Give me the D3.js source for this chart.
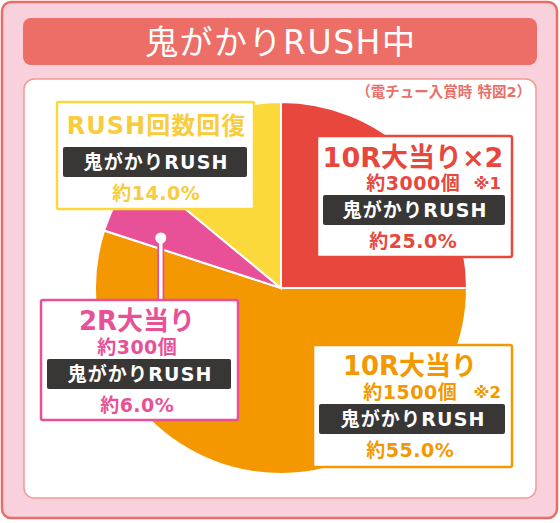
<!DOCTYPE html>
<html>
<head>
<meta charset="utf-8">
<script src="https://cdn.jsdelivr.net/npm/d3@7"></script>
<style>
  body { margin: 0; background: #fff; }
  svg { display: block; }
  text { font-family: "DejaVu Sans", "Noto Sans CJK JP", sans-serif; font-weight: bold; }
</style>
</head>
<body>
<div id="wrapper"></div>
<script>
// chart data
const title = "鬼がかりRUSH中";
const note = "（電チュー入賞時 特図2）";
const categories = ["10R大当り×2", "10R大当り", "2R大当り", "RUSH回数回復"];
const shares = [25.0, 55.0, 6.0, 14.0];
const payouts = ["約3000個", "約1500個", "約300個", null];
const marks = ["※1", "※2", null, null];
const modes = ["鬼がかりRUSH", "鬼がかりRUSH", "鬼がかりRUSH", "鬼がかりRUSH"];
const colors = ["#e8473e", "#f39800", "#e85197", "#fcd93a"];
const textColors = ["#e8473e", "#f39800", "#e85197", "#f8cc3c"];

const width = 560;
const height = 523;

// label box layout
const boxes = [
  { x: 317, y: 136, w: 195, h: 121, size: 27, spacing: 0, cx: 413 },
  { x: 313, y: 345, w: 199, h: 122, size: 26, spacing: 0, cx: 410 },
  { x: 41, y: 300, w: 197, h: 120, size: 26, spacing: 0, cx: 137 },
  { x: 57, y: 102, w: 197, h: 107, size: 24, spacing: 1, cx: 156 },
];

const svg = d3
  .select("#wrapper")
  .append("svg")
  .attr("width", width)
  .attr("height", height)
  .attr("viewBox", `0 0 ${width} ${height}`);

// centred text helper, compensating for trailing letter-spacing
function label(parent, x, y, str, size, fill, spacing = 0, anchor = "middle") {
  const shift = anchor === "middle" ? spacing / 2 : anchor === "end" ? spacing : 0;
  return parent.append("text")
    .attr("x", x + shift).attr("y", y)
    .attr("text-anchor", anchor)
    .attr("dominant-baseline", "central")
    .attr("fill", fill)
    .attr("font-size", size)
    .style("letter-spacing", `${spacing}px`)
    .text(str);
}

// outer frame
svg.append("rect")
  .attr("x", 2).attr("y", 2)
  .attr("width", 555).attr("height", 516)
  .attr("rx", 9)
  .attr("fill", "#f9d1dc")
  .attr("stroke", "#e96d68")
  .attr("stroke-width", 2.5);

// title banner
svg.append("rect")
  .attr("x", 23).attr("y", 18)
  .attr("width", 514).attr("height", 47)
  .attr("rx", 8)
  .attr("fill", "#ec6e67");
label(svg, 280, 42, title, 33, "#fff", 1.5).style("font-weight", "normal");

// inner panel
svg.append("rect")
  .attr("x", 24).attr("y", 79)
  .attr("width", 512).attr("height", 419)
  .attr("rx", 10)
  .attr("fill", "#fff")
  .attr("stroke", "#f29b95")
  .attr("stroke-width", 1.5);

label(svg, 531, 92, note, 14.5, "#e8706a", 0, "end");

// pie
const cx = 281, cy = 288, radius = 186;
const pie = d3.pie().sort(null).value((d) => d);
const arc = d3.arc().innerRadius(0).outerRadius(radius);
const arcs = pie(shares);

const g = svg.append("g").attr("transform", `translate(${cx},${cy})`);
g.selectAll("path")
  .data(arcs)
  .join("path")
  .attr("d", arc)
  .attr("fill", (d, i) => colors[i])
  .attr("stroke", "#fff")
  .attr("stroke-width", 2);

// leader for the small slice
const anchorArc = d3.arc().innerRadius(radius * 0.7).outerRadius(radius * 0.7);
const [ax, ay] = anchorArc.centroid({ ...arcs[2], startAngle: arcs[2].startAngle - 0.04, endAngle: arcs[2].startAngle + 0.2 });
const lx = cx + ax, ly = cy + ay;
svg.append("line")
  .attr("x1", lx).attr("y1", ly)
  .attr("x2", lx).attr("y2", boxes[2].y + 2)
  .attr("stroke", colors[2]).attr("stroke-width", 7);
svg.append("line")
  .attr("x1", lx).attr("y1", ly)
  .attr("x2", lx).attr("y2", boxes[2].y + 2)
  .attr("stroke", "#fff").attr("stroke-width", 3.5);
svg.append("circle")
  .attr("cx", lx).attr("cy", ly).attr("r", 5.5)
  .attr("fill", "#fff");

// label boxes
categories.forEach((cat, i) => {
  const b = boxes[i];
  const lg = svg.append("g");
  lg.append("rect")
    .attr("x", b.x).attr("y", b.y)
    .attr("width", b.w).attr("height", b.h)
    .attr("rx", 2)
    .attr("fill", "#fff")
    .attr("stroke", colors[i])
    .attr("stroke-width", 2.5);

  const hasPayout = payouts[i] !== null;
  const titleY = b.y + (hasPayout ? 21 : 24);
  const barY = b.y + (hasPayout ? 59 : 45);

  label(lg, b.cx, titleY, cat, b.size, textColors[i], b.spacing);

  if (hasPayout) {
    label(lg, b.cx, b.y + 47, payouts[i], 19, textColors[i], 0.5);
  }
  if (marks[i]) {
    label(lg, b.x + b.w - 11, b.y + 47, marks[i], 16.5, textColors[i], 0, "end");
  }

  lg.append("rect")
    .attr("x", b.x + 6).attr("y", barY)
    .attr("width", b.w - 13).attr("height", 30)
    .attr("rx", 2)
    .attr("fill", "#383736");
  label(lg, b.x + b.w / 2, barY + 15, modes[i], 19, "#fff", 1.2);

  label(lg, b.cx, barY + 46, `約${shares[i].toFixed(1)}%`, 19, textColors[i], 0.5);
});
</script>
</body>
</html>
